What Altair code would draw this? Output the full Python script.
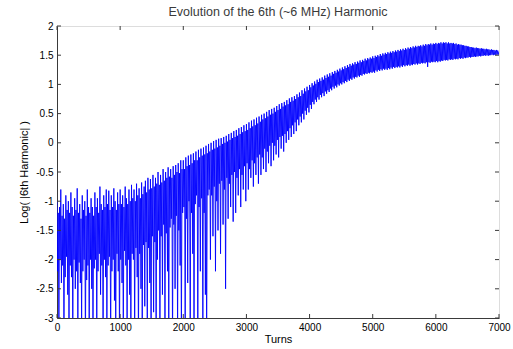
import altair as alt
import pandas as pd

log_harmonic = [
    -1.0,-2.2, -1.2,-3.3, -1.1,-2.0, -0.8,-2.4, -1.25,-2.1, -1.05,-3.5, -1.3,-2.3, -0.9,-1.95, -1.15,-2.6, -1.0,-3.2,
    -1.2,-2.1, -0.85,-2.3, -1.1,-3.4, -1.25,-2.0, -0.95,-2.5, -1.15,-2.2, -0.78,-3.3, -1.2,-2.05, -1.05,-2.4, -1.3,-3.1,
    -0.9,-2.2, -1.15,-2.0, -1.0,-3.5, -1.25,-2.35, -0.8,-2.1, -1.1,-3.2, -1.2,-2.0, -0.95,-2.5, -1.1,-3.4, -1.25,-2.15,
    -0.85,-2.0, -1.1,-3.3, -0.95,-2.2, -1.2,-1.9, -0.75,-2.6, -1.05,-2.1, -1.15,-3.5, -0.9,-2.0, -1.1,-2.3, -0.8,-3.2,
    -1.05,-2.1, -0.82,-1.95, -1.15,-3.4, -0.9,-2.2, -1.1,-2.0, -0.78,-2.7, -1.0,-3.3, -1.15,-1.9, -0.85,-2.2, -1.05,-3.5,
    -0.8,-2.0, -1.05,-2.4, -0.9,-3.3, -1.1,-1.85, -0.75,-2.1, -0.95,-3.2, -1.05,-2.0, -0.8,-2.6, -1.0,-3.4, -0.72,-1.9,
    -0.95,-2.0, -0.8,-3.3, -1.0,-1.8, -0.7,-2.3, -0.9,-3.5, -0.78,-1.9, -0.95,-2.5, -0.68,-3.2, -0.88,-1.75, -0.75,-2.8,
    -0.65,-1.7, -0.85,-3.4, -0.6,-1.8, -0.8,-2.4, -0.62,-3.3, -0.78,-1.6, -0.55,-2.9, -0.75,-1.7, -0.6,-3.5, -0.7,-2.0,
    -0.5,-1.5, -0.72,-3.3, -0.55,-1.6, -0.68,-2.6, -0.45,-1.4, -0.65,-3.4, -0.5,-1.55, -0.6,-2.2, -0.42,-3.2, -0.58,-1.45,
    -0.45,-1.3, -0.6,-3.5, -0.4,-1.4, -0.55,-2.5, -0.38,-1.25, -0.5,-3.3, -0.35,-1.5, -0.52,-2.1, -0.3,-3.4, -0.45,-1.2,
    -0.3,-1.1, -0.45,-3.2, -0.25,-1.3, -0.4,-2.4, -0.22,-1.0, -0.38,-3.5, -0.2,-1.2, -0.35,-1.9, -0.18,-3.3, -0.3,-1.05,
    -0.15,-0.9, -0.3,-3.4, -0.12,-1.1, -0.25,-2.2, -0.1,-0.95, -0.22,-3.3, -0.08,-1.2, -0.2,-2.6, -0.05,-3.5, -0.18,-0.9,
    -0.02,-0.8, -0.15,-2.0, 0.0,-0.9, -0.12,-1.6, 0.03,-0.75, -0.1,-2.2, 0.05,-1.0, -0.08,-1.5, 0.07,-0.7, -0.05,-1.9,
    0.08,-0.65, -0.02,-1.4, 0.1,-0.8, 0.0,-2.5, 0.12,-0.6, 0.02,-1.3, 0.15,-0.7, 0.05,-1.1, 0.17,-0.55, 0.08,-1.35,
    0.2,-0.5, 0.1,-1.2, 0.22,-0.6, 0.12,-0.9, 0.25,-0.45, 0.15,-1.1, 0.27,-0.55, 0.18,-0.8, 0.3,-0.4, 0.2,-1.0,
    0.32,-0.35, 0.22,-0.8, 0.35,-0.45, 0.25,-0.6, 0.38,-0.3, 0.28,-0.75, 0.4,-0.35, 0.3,-0.55, 0.43,-0.25, 0.33,-0.7,
    0.45,-0.2, 0.36,-0.55, 0.48,-0.25, 0.4,-0.45, 0.5,-0.1, 0.42,-0.5, 0.53,-0.15, 0.45,-0.35, 0.56,-0.05, 0.48,-0.4,
    0.58,0.0, 0.5,-0.3, 0.6,-0.05, 0.53,-0.2, 0.63,0.05, 0.56,-0.25, 0.66,0.1, 0.58,-0.1, 0.68,0.12, 0.62,-0.15,
    0.7,0.15, 0.64,0.0, 0.73,0.2, 0.66,0.05, 0.76,0.25, 0.7,0.1, 0.78,0.3, 0.72,0.15, 0.8,0.35, 0.75,0.2,
    0.83,0.4, 0.78,0.3, 0.86,0.45, 0.8,0.35, 0.9,0.5, 0.84,0.4, 0.93,0.55, 0.88,0.48, 0.96,0.6, 0.9,0.52,
    0.99,0.65, 0.95,0.58, 1.02,0.7, 0.98,0.66, 1.05,0.74, 1.01,0.7, 1.08,0.78, 1.04,0.74, 1.1,0.82, 1.06,0.78,
    1.12,0.85, 1.08,0.8, 1.15,0.88, 1.11,0.84, 1.17,0.9, 1.13,0.87, 1.19,0.93, 1.15,0.9, 1.21,0.96, 1.18,0.93,
    1.23,0.98, 1.2,0.95, 1.25,1.0, 1.22,0.98, 1.27,1.02, 1.24,1.0, 1.29,1.04, 1.26,1.02, 1.31,1.06, 1.28,1.04,
    1.33,1.08, 1.3,1.06, 1.35,1.1, 1.32,1.08, 1.36,1.12, 1.34,1.1, 1.38,1.13, 1.35,1.12, 1.39,1.15, 1.37,1.13,
    1.41,1.16, 1.38,1.15, 1.42,1.18, 1.4,1.17, 1.44,1.19, 1.41,1.18, 1.45,1.2, 1.43,1.19, 1.46,1.21, 1.44,1.2,
    1.48,1.22, 1.45,1.2, 1.49,1.24, 1.47,1.22, 1.5,1.25, 1.48,1.23, 1.52,1.26, 1.49,1.24, 1.53,1.27, 1.51,1.25,
    1.54,1.27, 1.52,1.25, 1.55,1.28, 1.53,1.26, 1.56,1.29, 1.54,1.27, 1.57,1.3, 1.55,1.28, 1.58,1.3, 1.56,1.29,
    1.59,1.31, 1.57,1.29, 1.6,1.32, 1.58,1.3, 1.61,1.33, 1.59,1.31, 1.62,1.33, 1.6,1.32, 1.63,1.34, 1.61,1.32,
    1.64,1.34, 1.62,1.33, 1.65,1.35, 1.63,1.34, 1.66,1.36, 1.64,1.34, 1.66,1.36, 1.65,1.35, 1.67,1.37, 1.65,1.36,
    1.68,1.37, 1.66,1.36, 1.69,1.38, 1.67,1.3, 1.69,1.38, 1.68,1.37, 1.7,1.39, 1.68,1.38, 1.7,1.39, 1.69,1.38,
    1.71,1.4, 1.69,1.38, 1.71,1.4, 1.7,1.39, 1.72,1.41, 1.7,1.4, 1.72,1.42, 1.71,1.41, 1.72,1.42, 1.7,1.41,
    1.72,1.43, 1.7,1.42, 1.71,1.43, 1.7,1.42, 1.71,1.44, 1.69,1.43, 1.7,1.44, 1.68,1.43, 1.69,1.45, 1.68,1.44,
    1.68,1.45, 1.67,1.44, 1.67,1.46, 1.66,1.45, 1.66,1.46, 1.65,1.46, 1.65,1.47, 1.64,1.46, 1.64,1.47, 1.63,1.47,
    1.63,1.48, 1.62,1.47, 1.63,1.48, 1.62,1.48, 1.62,1.49, 1.61,1.48, 1.62,1.49, 1.61,1.49, 1.61,1.5, 1.6,1.49,
    1.61,1.5, 1.6,1.49, 1.6,1.5, 1.59,1.5, 1.6,1.51, 1.59,1.5, 1.59,1.51, 1.58,1.5, 1.59,1.51, 1.58,1.51,
    1.56,
]
turns = list(range(0, 10 * len(log_harmonic), 10))

x_ticks = [0, 1000, 2000, 3000, 4000, 5000, 6000, 7000]
y_ticks = [-3, -2.5, -2, -1.5, -1, -0.5, 0, 0.5, 1, 1.5, 2]

df = pd.DataFrame({"Turns": turns, "LogH": log_harmonic})
xt = pd.DataFrame({"Turns": x_ticks})
yt = pd.DataFrame({"LogH": y_ticks})

FONT = "Liberation Sans"
GRAY = "#3a3a3a"
W, H = 442, 292

xscale = alt.Scale(domain=[0, 7000], nice=False, zero=False)
yscale = alt.Scale(domain=[-3, 2], nice=False, zero=False)

x_axis = alt.Axis(title="Turns", values=x_ticks, ticks=False, grid=False,
                  labelExpr="toString(datum.value)", labelPadding=4,
                  labelFlush=False, labelOverlap=False,
                  titlePadding=1, domainColor=GRAY, titleFontWeight="normal")
y_axis = alt.Axis(title="Log( |6th Harmonic| )", values=y_ticks, ticks=False,
                  grid=False, labelExpr="toString(datum.value)",
                  labelFlush=False, labelOverlap=False,
                  labelPadding=4, titlePadding=6, domainColor=GRAY,
                  titleFontWeight="normal")

X = alt.X("Turns:Q", scale=xscale, axis=x_axis)
Y = alt.Y("LogH:Q", scale=yscale, axis=y_axis)

line = alt.Chart(df).mark_line(color="#0000ff", strokeWidth=0.9, clip=True).encode(x=X, y=Y)

tick_len = 4
xb = alt.Chart(xt).mark_rule(color=GRAY, strokeWidth=1).encode(
    x=X, y=alt.value(H), y2=alt.value(H - tick_len))
xtop = alt.Chart(xt).mark_rule(color=GRAY, strokeWidth=1).encode(
    x=X, y=alt.value(0), y2=alt.value(tick_len))
yl = alt.Chart(yt).mark_rule(color=GRAY, strokeWidth=1).encode(
    y=Y, x=alt.value(0), x2=alt.value(tick_len))
yr = alt.Chart(yt).mark_rule(color=GRAY, strokeWidth=1).encode(
    y=Y, x=alt.value(W), x2=alt.value(W - tick_len))

chart = alt.layer(line, xb, xtop, yl, yr).properties(
    width=W, height=H,
    title=alt.TitleParams("Evolution of the 6th (~6 MHz) Harmonic", font=FONT,
                          fontSize=12.5, fontWeight="normal", color=GRAY,
                          anchor="middle", offset=3),
    autosize=alt.AutoSizeParams(type="none"),
    padding={"left": 57, "top": 26, "right": 14, "bottom": 31},
).configure_view(stroke=GRAY, strokeWidth=1).configure_axis(
    labelFont=FONT, titleFont=FONT, labelFontSize=12.5, titleFontSize=12,
    labelColor=GRAY, titleColor=GRAY, titleFontWeight="normal",
).configure(background="white")

chart.save("out.html", embed_options={"renderer": "svg", "actions": False})
